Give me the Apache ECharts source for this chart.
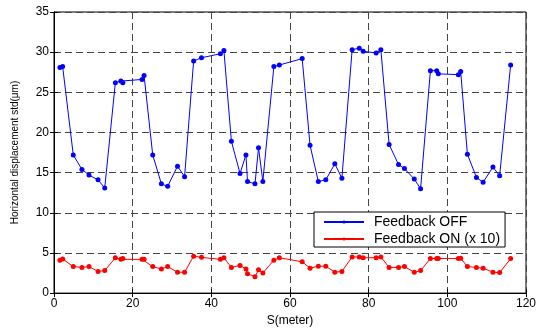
<!DOCTYPE html>
<html><head><meta charset="utf-8">
<script src="https://cdn.jsdelivr.net/npm/echarts@6/dist/echarts.min.js"></script>
<style>html,body{margin:0;padding:0;background:#fff}#c{width:539px;height:332px}</style>
</head><body><div id="c"></div>
<script>
const sPos = [1.5,2.2,4.9,7.1,8.9,11.2,12.9,15.6,17.0,17.5,22.4,22.9,25.1,27.3,28.9,31.4,33.2,35.5,37.5,42.3,43.2,45.1,47.3,48.8,49.2,51.1,52.0,53.1,55.9,57.3,63.1,65.1,67.2,69.1,71.4,73.2,75.8,77.6,78.6,81.9,83.1,85.2,87.6,89.1,91.6,93.2,95.7,97.3,97.7,102.8,103.4,105.1,107.4,109.1,111.6,113.3,116.1];
const feedbackOff = [28.1,28.2,17.2,15.4,14.7,14.1,13.1,26.2,26.4,26.2,26.6,27.1,17.2,13.6,13.3,15.8,14.5,28.9,29.3,29.8,30.2,18.9,14.9,17.2,13.9,13.6,18.1,13.9,28.2,28.4,29.2,18.4,13.9,14.1,16.1,14.3,30.3,30.5,30.1,29.9,30.3,18.5,16.0,15.5,14.2,13.0,27.7,27.7,27.3,27.2,27.6,17.3,14.4,13.8,15.7,14.6,28.4];
const feedbackOn10 = [4.1,4.25,3.3,3.2,3.3,2.7,2.8,4.4,4.2,4.3,4.2,4.2,3.3,3.0,3.3,2.6,2.6,4.6,4.45,4.2,4.4,3.2,3.45,3.0,2.4,2.05,2.9,2.5,4.1,4.4,3.9,3.1,3.35,3.35,2.6,2.7,4.5,4.5,4.4,4.4,4.5,3.2,3.2,3.3,2.6,2.8,4.3,4.3,4.3,4.3,4.35,3.3,3.2,3.1,2.6,2.55,4.3];
const seriesNames = ['Feedback OFF','Feedback ON (x 10)'];
const xTitle = 'S(meter)';
const yTitle = 'Horizontal displacement std(\u03bcm)';

const font = 'Arial, "Liberation Sans", Helvetica, sans-serif';
const chart = echarts.init(document.getElementById('c'), null, {renderer:'canvas'});
const pairs = (xs, ys) => xs.map((x,i)=>[x, ys[i]]);
const splitDash = {show:true, lineStyle:{color:'#444', type:[7,4], width:1}};
chart.setOption({
  animation:false,
  grid:{left:54, top:12, right:9, bottom:29, show:true, borderColor:'#000', borderWidth:1, backgroundColor:'transparent'},
  legend:{
    orient:'vertical', left:314, top:212,
    data:seriesNames,
    itemWidth:40, itemHeight:4, itemGap:3,
    padding:[3,5,1,9],
    backgroundColor:'#fff', borderColor:'#000', borderWidth:1,
    textStyle:{fontFamily:font, fontSize:14, color:'#000', padding:[0,0,0,5]}
  },
  xAxis:[{
    type:'value', min:0, max:120, interval:20,
    name:xTitle, nameLocation:'middle', nameGap:14,
    nameTextStyle:{fontFamily:font, fontSize:12, color:'#000'},
    axisLine:{show:true, lineStyle:{color:'#000'}},
    axisTick:{show:true, inside:true, length:4, lineStyle:{color:'#000'}},
    axisLabel:{fontFamily:font, fontSize:12, color:'#000', margin:5},
    splitLine:splitDash
  },{
    type:'value', min:0, max:120, interval:20, position:'top',
    axisLine:{show:true, lineStyle:{color:'#000'}},
    axisTick:{show:true, inside:true, length:4, lineStyle:{color:'#000'}},
    axisLabel:{show:false}, splitLine:{show:false}
  }],
  yAxis:[{
    type:'value', min:0, max:35, interval:5,
    name:yTitle, nameLocation:'middle', nameGap:34,
    nameTextStyle:{fontFamily:font, fontSize:10, color:'#000'},
    axisLine:{show:true, lineStyle:{color:'#000'}},
    axisTick:{show:true, inside:true, length:4, lineStyle:{color:'#000'}},
    axisLabel:{fontFamily:font, fontSize:12, color:'#000', margin:5},
    splitLine:splitDash
  },{
    type:'value', min:0, max:35, interval:5, position:'right',
    axisLine:{show:true, lineStyle:{color:'#000'}},
    axisTick:{show:true, inside:true, length:4, lineStyle:{color:'#000'}},
    axisLabel:{show:false}, splitLine:{show:false}
  }],
  series:[{
    name:seriesNames[0], type:'line', data:pairs(sPos, feedbackOff),
    symbol:'circle', symbolSize:5, color:'#0000ff',
    lineStyle:{width:1, color:'#0000ff'}, itemStyle:{color:'#0000ff'}
  },{
    name:seriesNames[1], type:'line', data:pairs(sPos, feedbackOn10),
    symbol:'circle', symbolSize:5, color:'#ff0000',
    lineStyle:{width:1, color:'#ff0000'}, itemStyle:{color:'#ff0000'}
  }]
});
</script></body></html>
